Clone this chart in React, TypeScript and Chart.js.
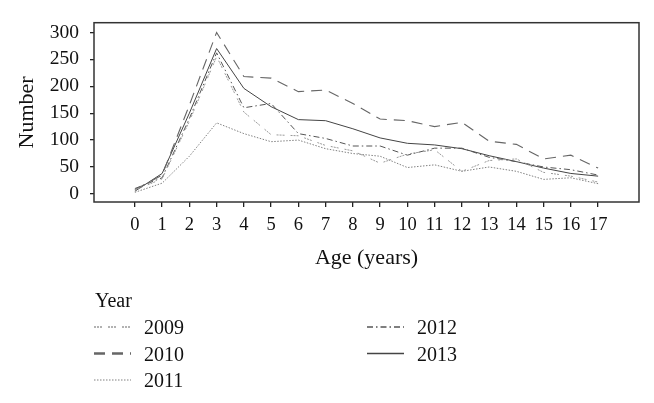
import React, { useEffect, useRef } from "react";
import { Chart, registerables } from "chart.js";

Chart.register(...registerables);

const ages = [0, 1, 2, 3, 4, 5, 6, 7, 8, 9, 10, 11, 12, 13, 14, 15, 16, 17];
const yTickValues = [0, 50, 100, 150, 200, 250, 300];

const years = ["2009", "2010", "2011", "2012", "2013"];
const values2009 = [7, 28, 135, 255, 152, 110, 108, 90, 80, 57, 74, 82, 42, 62, 65, 40, 33, 22];
const values2010 = [8, 35, 165, 300, 218, 215, 190, 193, 168, 139, 136, 125, 133, 98, 92, 65, 72, 48];
const values2011 = [3, 20, 70, 132, 112, 97, 100, 84, 75, 70, 49, 54, 42, 50, 42, 27, 30, 19];
const values2012 = [10, 30, 140, 262, 160, 168, 112, 103, 89, 89, 72, 85, 85, 68, 60, 50, 45, 35];
const values2013 = [5, 38, 150, 270, 196, 162, 138, 136, 121, 104, 94, 91, 84, 71, 60, 48, 38, 33];

const seriesValues = [values2009, values2010, values2011, values2012, values2013];
const seriesColors = ["#999999", "#666666", "#808080", "#555555", "#444444"];
const seriesDash = [[2, 1, 2, 1, 2, 6], [11, 7], [1.5, 1.5], [6, 3, 1.5, 3], []];
const seriesWidth = [1, 1.1, 1, 1, 1];
const legendWidth = [1.5, 2.5, 1.2, 1.5, 1.5];

const SERIF = "'Liberation Serif', 'Times New Roman', serif";

const boxPlugin = {
  id: "boxPlugin",
  afterDraw(chart: any) {
    const { ctx, chartArea } = chart;
    ctx.save();
    ctx.strokeStyle = "#333";
    ctx.lineWidth = 1.5;
    ctx.strokeRect(chartArea.left, chartArea.top, chartArea.right - chartArea.left, chartArea.bottom - chartArea.top);
    ctx.restore();
  },
};

const legendPlugin = {
  id: "customLegend",
  afterDraw(chart: any) {
    const { ctx } = chart;
    ctx.save();
    ctx.fillStyle = "#111";
    ctx.font = `20px ${SERIF}`;
    ctx.textBaseline = "alphabetic";
    ctx.textAlign = "left";
    ctx.fillText("Year", 95, 307);
    const positions = [
      [94, 327],
      [94, 353.5],
      [94, 380],
      [367, 327],
      [367, 353.5],
    ];
    chart.data.datasets.forEach((ds: any, i: number) => {
      const [x, y] = positions[i];
      ctx.save();
      ctx.strokeStyle = ds.borderColor;
      ctx.lineWidth = legendWidth[i];
      ctx.setLineDash(ds.borderDash || []);
      ctx.beginPath();
      ctx.moveTo(x, y);
      ctx.lineTo(x + 37, y);
      ctx.stroke();
      ctx.restore();
      ctx.fillStyle = "#111";
      ctx.fillText(ds.label, x + 50, y + 7);
    });
    ctx.restore();
  },
};

export default function App() {
  const ref = useRef<HTMLCanvasElement | null>(null);
  useEffect(() => {
    if (!ref.current) return;
    const chart = new Chart(ref.current, {
      type: "line",
      data: {
        datasets: years.map((yr, i) => ({
          label: yr,
          data: ages.map((a, j) => ({ x: a, y: seriesValues[i][j] })),
          borderColor: seriesColors[i],
          borderDash: seriesDash[i],
          borderWidth: seriesWidth[i],
          pointRadius: 0,
          fill: false,
          tension: 0,
        })),
      },
      options: {
        animation: false,
        responsive: false,
        maintainAspectRatio: false,
        layout: { padding: { left: 0, top: 14, right: 15, bottom: 121 } },
        plugins: { legend: { display: false }, tooltip: { enabled: false } },
        scales: {
          x: {
            type: "linear",
            min: -1.5,
            max: 18.5,
            afterBuildTicks: (scale: any) => {
              scale.ticks = ages.map((v) => ({ value: v }));
            },
            afterFit: (scale: any) => {
              scale.height = 80;
            },
            border: { display: false },
            grid: { drawOnChartArea: false, drawTicks: true, tickLength: 5, color: "#222", lineWidth: 1.3 },
            ticks: { color: "#111", font: { family: SERIF, size: 18.5 }, padding: 7, maxRotation: 0, autoSkip: false },
            title: { display: true, text: "Age (years)", color: "#111", font: { family: SERIF, size: 22 }, padding: { top: 0, bottom: 11 } },
          },
          y: {
            type: "linear",
            min: -15,
            max: 318,
            afterBuildTicks: (scale: any) => {
              scale.ticks = yTickValues.map((v) => ({ value: v }));
            },
            afterFit: (scale: any) => {
              scale.width = 94;
            },
            border: { display: false },
            grid: { drawOnChartArea: false, drawTicks: true, tickLength: 4, color: "#222", lineWidth: 1.3 },
            ticks: { color: "#111", font: { family: SERIF, size: 19.5 }, padding: 11 },
            title: { display: true, text: "Number", color: "#111", font: { family: SERIF, size: 22 }, padding: { top: 14, bottom: 0 } },
          },
        },
      },
      plugins: [boxPlugin, legendPlugin],
    });
    return () => chart.destroy();
  }, []);
  return (
    <div style={{ position: "absolute", left: 0, top: 0, width: 654, height: 403, background: "#fff" }}>
      <canvas ref={ref} width={654} height={403} style={{ width: 654, height: 403, display: "block" }} />
    </div>
  );
}
